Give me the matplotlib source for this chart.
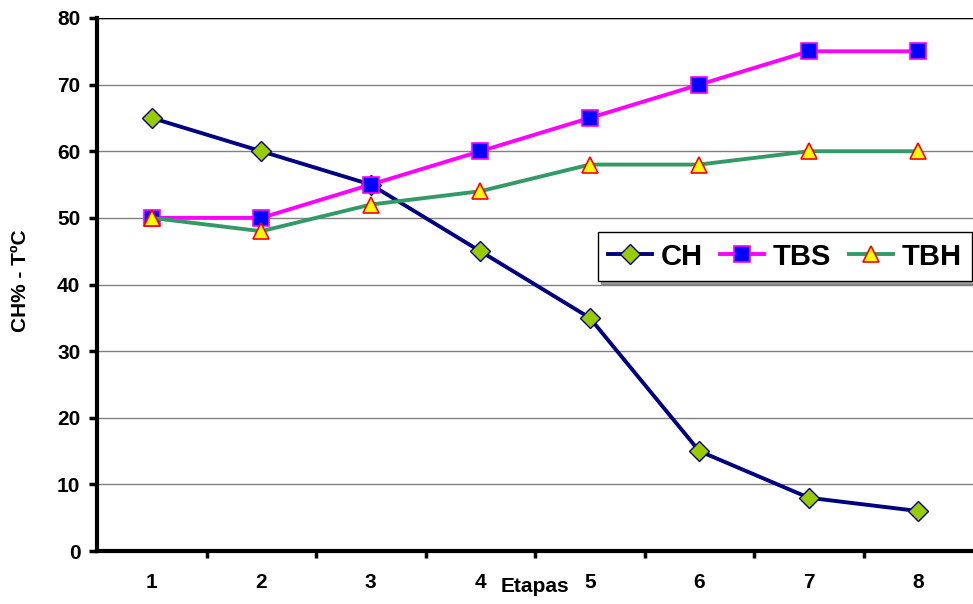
import matplotlib
matplotlib.use("Agg")
import matplotlib.pyplot as plt

plt.rcParams['font.family'] = ['Liberation Sans', 'DejaVu Sans']
plt.rcParams['font.weight'] = 'bold'

etapas = [1, 2, 3, 4, 5, 6, 7, 8]
ch = [65, 60, 55, 45, 35, 15, 8, 6]
tbs = [50, 50, 55, 60, 65, 70, 75, 75]
tbh = [50, 48, 52, 54, 58, 58, 60, 60]

fig = plt.figure(figsize=(9.73, 6.04), dpi=100)
ax = fig.add_axes([0.0997, 0.0877, 0.9003, 0.8825])

ax.plot(etapas, ch, color='#000080', lw=2.8, marker='D', ms=10,
        mfc='#99cc00', mec='#000080', mew=1.0, label='CH', zorder=3)
ax.plot(etapas, tbs, color='#ff00ff', lw=2.8, marker='s', ms=12,
        mfc='#0000ff', mec='#ff00ff', mew=1.2, label='TBS', zorder=3)
ax.plot(etapas, tbh, color='#339966', lw=2.8, marker='^', ms=11,
        mfc='#ffff00', mec='#ff0000', mew=1.2, label='TBH', zorder=4)

ax.set_xlim(0.5, 8.5)
ax.set_ylim(0, 80)
ax.set_yticks(range(0, 81, 10))
ax.set_xticks(etapas)
ax.set_xticks([x + 0.5 for x in etapas[:-1]], minor=True)
ax.tick_params(axis='x', which='major', length=0, pad=16, labelsize=15)
ax.tick_params(axis='x', which='minor', length=5, width=2.5, direction='out')
ax.tick_params(axis='y', length=6, width=2.5, direction='out', labelsize=15, pad=6)

ax.grid(axis='y', color='#808080', lw=1.0)
ax.axhline(80, color='black', lw=1.0)
ax.set_axisbelow(True)

for side in ('top', 'right'):
    ax.spines[side].set_visible(False)
for side in ('left', 'bottom'):
    ax.spines[side].set_linewidth(3)
    ax.spines[side].set_zorder(5)

ax.set_ylabel('CH% - TºC', fontsize=15, fontweight='bold')
ax.yaxis.set_label_coords(-0.0765, 0.508)
ax.text(4.5, -5.3, 'Etapas', ha='center', va='center', fontsize=15,
        fontweight='bold', clip_on=False)

leg = ax.legend(loc='lower left', bbox_to_anchor=(0.572, 0.507), ncol=3,
                frameon=True, fancybox=False, shadow=True, borderaxespad=0,
                handlelength=1.5, handletextpad=0.3, columnspacing=0.6,
                borderpad=0.35, prop={'size': 21, 'weight': 'bold'})
leg.get_frame().set_edgecolor('black')
leg.get_frame().set_linewidth(1.0)

fig.savefig('out.png', dpi=100)
